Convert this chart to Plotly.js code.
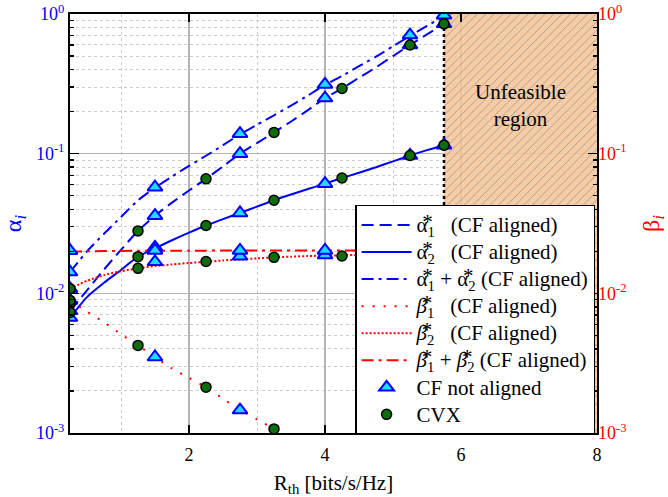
<!DOCTYPE html>
<html>
<head>
<meta charset="utf-8">
<script src="https://cdn.plot.ly/plotly-3.0.1.min.js"></script>
<style>html,body{margin:0;padding:0;background:#fff;}</style>
</head>
<body>
<div id="chart" style="width:668px;height:497px;"></div>
<script>
// ---- data ----
const xLine = [0.25,0.5,0.75,1.0,1.25,1.5,1.75,2.0,2.25,2.5,2.75,3.0,3.25,3.5,3.75,4.0,4.25,4.5,4.75,5.0,5.25,5.5,5.75];
const alpha1Line = [0.0075,0.0105,0.0148,0.0205,0.028,0.036,0.0446,0.0545,0.066,0.081,0.100,0.119,0.142,0.170,0.205,0.250,0.293,0.350,0.415,0.500,0.600,0.715,0.850];
const alpha2Line = [0.0067,0.0094,0.0119,0.0147,0.0183,0.021,0.024,0.0272,0.0306,0.034,0.0376,0.0418,0.0464,0.051,0.0558,0.061,0.067,0.073,0.080,0.088,0.097,0.106,0.115];
const alphaSumLine = [0.0142,0.020,0.0267,0.0352,0.0463,0.057,0.0686,0.0817,0.0966,0.115,0.1376,0.161,0.188,0.221,0.261,0.311,0.360,0.423,0.495,0.588,0.697,0.821,0.965];
const xBeta1Line = [0.25,0.5,0.75,1.0,1.25,1.5,1.75,2.0,2.25,2.5,2.75,3.0,3.25,3.5];
const beta1Line = [0.0089,0.0074,0.0062,0.0051,0.00424,0.0035,0.0029,0.00248,0.00213,0.00176,0.00146,0.00125,0.00107,0.00089];
const beta2Line = [0.0108,0.0123,0.0135,0.0144,0.0151,0.0157,0.0161,0.0165,0.0168,0.0172,0.0175,0.0178,0.0181,0.0183,0.0185,0.0186,0.0187,0.0189,0.019,0.0191,0.0192,0.0193,0.0194];
const betaSumLine = [0.0199,0.0200,0.0201,0.0201,0.0202,0.0202,0.0202,0.0202,0.0202,0.0203,0.0203,0.0203,0.0203,0.0203,0.0203,0.0203,0.0203,0.0203,0.0203,0.0203,0.0203,0.0203,0.0203];

const xTri = [0.25,1.5,2.75,4.0,5.25,5.75];
const triAlpha1 = [0.0075,0.036,0.100,0.250,0.600,0.850];
const triAlpha2 = [0.0067,0.0213,0.0376,0.061,0.097,0.115];
const triAlphaSum = [0.0142,0.0575,0.139,0.313,0.707,0.98];
const xTriBeta1 = [0.25,1.5,2.75];
const triBeta1 = [0.0089,0.0035,0.00146];
const triBeta2 = [0.0108,0.0168,0.0184,0.0188,0.0192,0.0194];
const triBetaSum = [0.0202,0.0203,0.0203,0.0203,0.0203,0.0203];

const xCvx = [0.25,1.25,2.25,3.25,4.25,5.25,5.75];
const cvxAlpha1 = [0.0084,0.028,0.066,0.142,0.293,0.600,0.850];
const cvxAlpha2 = [0.0073,0.0183,0.0306,0.0464,0.067,0.097,0.115];
const xCvxBeta1 = [0.25,1.25,2.25,3.25];
const cvxBeta1 = [0.0089,0.00424,0.00213,0.00107];
const cvxBeta2 = [0.0108,0.0151,0.0169,0.0181,0.0185,0.0192,0.0194];

// unfeasible region bounds and the feasibility limit
const regionX = [5.75, 8, 8, 5.75, 5.75];
const regionY = [0.001, 0.001, 1, 1, 0.001];
const limitX = [5.75, 5.75];
const limitY = [0.001, 1];

// ticks
const xTickVals = [2,4,6,8];
const xTickText = ['2','4','6','8'];
const xMinorVals = [1,3,5,7];
const yTickVals = [0.001,0.01,0.1,1];
const yTickText = ['10<sup>-3</sup>','10<sup>-2</sup>','10<sup>-1</sup>','10<sup>0</sup>'];
const yMinorVals = [0.002,0.003,0.004,0.005,0.006,0.007,0.008,0.009,
                    0.02,0.03,0.04,0.05,0.06,0.07,0.08,0.09,
                    0.2,0.3,0.4,0.5,0.6,0.7,0.8,0.9];

// ---- styling ----
const FONT = 'Liberation Serif, Times New Roman, serif';
const BLUE = '#0000ff', RED = '#ff0000';
const NB = '\u00A0';
const ST = '\u20F0';
const big = s => '<span style="font-size:21px">' + s + '</span>';

const traces = [];
traces.push({x: regionX, y: regionY, mode: 'lines', fill: 'toself', opacity: 0.88,
  fillcolor: '#f6c69c', line: {width: 0},
  fillpattern: {shape: '/', fgcolor: '#9a8676', bgcolor: '#f6c69c', size: 6, solidity: 0.14},
  showlegend: false, hoverinfo: 'skip'});
traces.push({x: limitX, y: limitY, mode: 'lines', line: {color: 'black', width: 2.5, dash: '3px,3px'},
  showlegend: false, hoverinfo: 'skip'});

function lineTrace(x, y, name, color, dash, width) {
  return {x: x, y: y, name: big(name), mode: 'lines',
    line: {color: color, width: width, dash: dash, shape: 'spline', smoothing: 0.6}};
}
traces.push(lineTrace(xLine, alpha1Line, 'α'+ST+'<sub>1</sub>'+NB+NB+NB+'(CF aligned)', BLUE, '12px,6px', 2));
traces.push(lineTrace(xLine, alpha2Line, 'α'+ST+'<sub>2</sub>'+NB+NB+NB+'(CF aligned)', BLUE, 'solid', 2));
traces.push(lineTrace(xLine, alphaSumLine, 'α'+ST+'<sub>1</sub> + α'+ST+'<sub>2</sub> (CF aligned)', BLUE, '12px,5px,3px,5px', 2));
traces.push(lineTrace(xBeta1Line, beta1Line, '<i>β</i>'+ST+'<sub>1</sub>'+NB+NB+NB+'(CF aligned)', RED, '2px,9px', 2));
traces.push(lineTrace(xLine, beta2Line, '<i>β</i>'+ST+'<sub>2</sub>'+NB+NB+NB+'(CF aligned)', RED, '2px,2px', 2));
traces.push(lineTrace(xLine, betaSumLine, '<i>β</i>'+ST+'<sub>1</sub> + <i>β</i>'+ST+'<sub>2</sub> (CF aligned)', RED, '12px,5px,3px,5px', 2));

const triMarker = {symbol: 'triangle-up', size: 13, color: '#19dcff', line: {color: BLUE, width: 2}};
const cvxMarker = {symbol: 'circle', size: 10, color: '#0b6e0b', line: {color: 'black', width: 1.5}};
const triSets = [[xTri, triAlpha1], [xTri, triAlpha2], [xTri, triAlphaSum], [xTriBeta1, triBeta1], [xTri, triBeta2], [xTri, triBetaSum]];
triSets.forEach((s, i) => traces.push({x: s[0], y: s[1], mode: 'markers', marker: triMarker,
  name: big('CF not aligned'), legendgroup: 'tri', showlegend: i === 0}));
const cvxSets = [[xCvx, cvxAlpha1], [xCvx, cvxAlpha2], [xCvxBeta1, cvxBeta1], [xCvx, cvxBeta2]];
cvxSets.forEach((s, i) => traces.push({x: s[0], y: s[1], mode: 'markers', marker: cvxMarker,
  name: big('CVX'), legendgroup: 'cvx', showlegend: i === 0}));
// invisible anchor for the right-hand beta axis
traces.push({x: [null], y: [null], yaxis: 'y2', mode: 'lines', showlegend: false, hoverinfo: 'skip'});

const layout = {
  width: 668, height: 497,
  margin: {l: 70, r: 71, t: 14, b: 64},
  paper_bgcolor: 'white', plot_bgcolor: 'white',
  font: {family: FONT, size: 18, color: 'black'},
  showlegend: true,
  legend: {x: 0.541, y: 0.5442, xanchor: 'left', yanchor: 'top', bgcolor: 'white',
    bordercolor: 'black', borderwidth: 1.5, font: {family: FONT, size: 18.5, color: 'black'},
    tracegroupgap: 0, itemwidth: 50},
  xaxis: {range: [0.25, 8], showline: true, linecolor: 'black', linewidth: 2, mirror: 'ticks',
    ticks: 'inside', ticklen: 8, tickwidth: 1.5, tickcolor: 'black',
    tickmode: 'array', tickvals: xTickVals, ticktext: xTickText, ticklabelstandoff: 4,
    tickfont: {family: FONT, size: 18, color: 'black'},
    showgrid: true, gridcolor: '#b4b4b4', gridwidth: 1.5, zeroline: false,
    minor: {tickmode: 'array', tickvals: xMinorVals, showgrid: true, gridcolor: '#cdcdcd', griddash: 'dot', gridwidth: 1},
    title: {text: 'R<sub>th</sub> [bits/s/Hz]', font: {family: FONT, size: 21, color: 'black'}, standoff: 12}},
  yaxis: {type: 'log', range: [-3, 0], showline: true, linecolor: 'black', linewidth: 2, mirror: true,
    ticks: 'inside', ticklen: 9, tickwidth: 1.5, tickcolor: 'black',
    tickmode: 'array', tickvals: yTickVals, ticktext: yTickText,
    tickfont: {family: FONT, size: 18, color: BLUE},
    showgrid: true, gridcolor: '#b4b4b4', gridwidth: 1.5, zeroline: false,
    minor: {tickmode: 'array', tickvals: yMinorVals, ticks: 'inside', ticklen: 4, tickwidth: 1.5, tickcolor: 'black',
      showgrid: true, gridcolor: '#cdcdcd', griddash: 'dot', gridwidth: 1},
    title: {text: 'α<sub><i>i</i></sub>', font: {family: FONT, size: 24, color: BLUE}, standoff: 18}},
  yaxis2: {type: 'log', range: [-3, 0], overlaying: 'y', side: 'right', showline: false,
    ticks: 'inside', ticklen: 9, tickwidth: 1.5, tickcolor: 'black',
    tickmode: 'array', tickvals: yTickVals, ticktext: yTickText,
    tickfont: {family: FONT, size: 18, color: RED},
    showgrid: false, zeroline: false,
    minor: {tickmode: 'array', tickvals: yMinorVals, ticks: 'inside', ticklen: 4, tickwidth: 1.5, tickcolor: 'black', showgrid: false},
    title: {text: 'β<sub><i>i</i></sub>', font: {family: FONT, size: 24, color: RED}, standoff: 24}},
  annotations: [{x: 6.875, y: Math.log10(0.222), xref: 'x', yref: 'y', text: 'Unfeasible<br>region',
    showarrow: false, font: {family: FONT, size: 21, color: 'black'}}]
};

Plotly.newPlot('chart', traces, layout, {displayModeBar: false, staticPlot: true});
</script>
</body>
</html>
